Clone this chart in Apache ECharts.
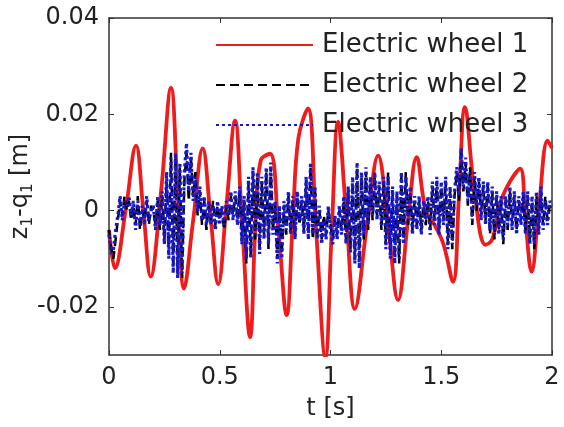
<!DOCTYPE html>
<html>
<head>
<meta charset="utf-8">
<script src="https://cdn.jsdelivr.net/npm/echarts@6/dist/echarts.min.js"></script>
<style>
  html, body { margin: 0; padding: 0; background: #fff; }
  #chart { width: 564px; height: 427px; }
</style>
</head>
<body>
<div id="chart"></div>
<script>
// wheel 1 (smooth red curve): times and values read at peaks, troughs and crossings
let wheel1Time = [0, 0.027, 0.075, 0.122, 0.155, 0.188, 0.235, 0.28, 0.31, 0.339, 0.38, 0.423, 0.458, 0.493,
    0.53, 0.569, 0.60, 0.637, 0.662, 0.685, 0.727, 0.765, 0.802, 0.83, 0.855, 0.898, 0.935, 0.977, 1.005,
    1.034, 1.07, 1.11, 1.165, 1.215, 1.26, 1.305, 1.35, 1.389, 1.43, 1.47, 1.51, 1.553, 1.58, 1.607, 1.65,
    1.70, 1.73, 1.77, 1.81, 1.856, 1.88, 1.908, 1.94, 1.98, 2.0];
let wheel1 = [-0.004, -0.012, 0.000, 0.0135, 0.000, -0.0137, 0.004, 0.0255, 0.004, -0.0162, -0.002, 0.0129, -0.001, -0.0153,
    0.001, 0.0187, -0.002, -0.0263, -0.002, 0.0104, 0.0118, -0.004, -0.0217, -0.002, 0.015, 0.0212, -0.004, -0.0305, -0.005,
    0.0184, 0.000, -0.0204, -0.003, 0.0114, -0.003, -0.0186, -0.002, 0.0111, 0.000, -0.003, -0.007, -0.0148, 0.003, 0.0215, 0.004,
    -0.0071, -0.006, 0.002, 0.006, 0.0087, -0.002, -0.0127, 0.000, 0.0145, 0.013];

// wheels 2 and 3 sampled every 0.01 s from 0 to 2 s
let sampleStep = 0.01;
let wheel2 = [
    -0.004, -0.008, -0.010, -0.006, -0.002, 0.002, -0.001, 0.003, 0.000, 0.002,
    -0.002, 0.001, -0.003, 0.003, -0.004, 0.000, -0.002, 0.002, -0.003, 0.001,
    0.000, -0.003, 0.002, -0.004, 0.003, -0.006, 0.006, -0.009, 0.012, -0.012,
    0.011, -0.013, 0.009, -0.014, 0.006, 0.012, 0.002, 0.011, 0.003, 0.008,
    -0.001, 0.004, -0.003, 0.002, -0.004, 0.001, -0.002, 0.002, -0.003, 0.001,
    -0.002, 0.000, -0.004, 0.001, -0.002, 0.003, -0.001, 0.003, -0.002, 0.004,
    -0.006, 0.002, -0.011, 0.006, -0.009, 0.008, -0.006, 0.007, -0.008, 0.006,
    -0.005, 0.008, -0.008, 0.009, -0.004, 0.001, -0.010, 0.000, -0.009, 0.001,
    -0.005, 0.003, -0.004, 0.002, -0.005, 0.003, -0.003, 0.002, -0.004, 0.006,
    -0.005, 0.009, -0.006, 0.004, -0.005, 0.000, -0.006, -0.001, -0.005, 0.000,
    -0.003, -0.006, -0.002, -0.005, 0.000, -0.004, 0.002, -0.006, 0.004, -0.008,
    0.006, -0.010, 0.009, -0.011, 0.007, -0.006, 0.008, -0.004, 0.006, -0.002,
    0.007, -0.001, 0.005, -0.004, 0.006, -0.007, 0.008, -0.009, 0.004, -0.010,
    0.003, -0.011, 0.007, -0.006, 0.008, -0.003, 0.004, -0.004, 0.002, -0.003,
    0.002, -0.004, 0.001, -0.003, 0.002, -0.004, 0.005, -0.002, 0.006, -0.004,
    0.005, -0.002, 0.006, -0.007, 0.004, -0.008, 0.003, 0.008, 0.002, 0.012,
    0.004, 0.010, 0.001, 0.009, -0.003, 0.007, 0.000, 0.006, -0.001, 0.005,
    -0.002, 0.005, -0.005, 0.004, -0.006, 0.003, -0.004, 0.002, -0.007, 0.002,
    -0.004, 0.004, -0.003, 0.003, -0.004, 0.002, -0.002, 0.003, -0.004, 0.003,
    -0.006, 0.002, -0.008, 0.003, -0.004, 0.004, -0.003, 0.003, -0.002, 0.001, 0.000
];
let wheel3 = [
    -0.005, -0.009, -0.008, -0.004, -0.001, 0.003, -0.002, 0.002, 0.001, 0.003,
    -0.001, 0.002, -0.004, 0.002, -0.003, 0.001, -0.003, 0.003, -0.002, 0.000,
    0.001, -0.004, 0.003, -0.003, 0.004, -0.007, 0.008, -0.010, 0.011, -0.013,
    0.012, -0.014, 0.010, -0.013, 0.008, 0.014, 0.004, 0.012, 0.002, 0.007,
    0.000, 0.005, -0.002, 0.003, -0.003, 0.002, -0.003, 0.001, -0.004, 0.002,
    -0.003, 0.001, -0.003, 0.002, -0.001, 0.004, -0.002, 0.004, -0.003, 0.005,
    -0.007, 0.003, -0.010, 0.007, -0.010, 0.009, -0.005, 0.008, -0.009, 0.007,
    -0.006, 0.009, -0.007, 0.010, -0.005, 0.002, -0.011, 0.001, -0.010, 0.002,
    -0.004, 0.004, -0.005, 0.003, -0.006, 0.004, -0.002, 0.003, -0.005, 0.007,
    -0.006, 0.010, -0.005, 0.005, -0.006, 0.001, -0.007, -0.002, -0.006, 0.001,
    -0.004, -0.007, -0.001, -0.006, 0.001, -0.005, 0.003, -0.007, 0.005, -0.009,
    0.007, -0.011, 0.010, -0.012, 0.008, -0.005, 0.009, -0.003, 0.007, -0.001,
    0.008, -0.002, 0.006, -0.003, 0.007, -0.008, 0.007, -0.010, 0.005, -0.011,
    0.004, -0.010, 0.008, -0.007, 0.007, -0.002, 0.005, -0.005, 0.003, -0.004,
    0.003, -0.005, 0.002, -0.002, 0.003, -0.005, 0.006, -0.003, 0.007, -0.005,
    0.006, -0.003, 0.007, -0.008, 0.005, -0.007, 0.004, 0.009, 0.003, 0.013,
    0.005, 0.011, 0.002, 0.008, -0.002, 0.008, 0.001, 0.007, -0.002, 0.006,
    -0.003, 0.006, -0.004, 0.005, -0.005, 0.004, -0.005, 0.003, -0.006, 0.003,
    -0.003, 0.005, -0.004, 0.004, -0.005, 0.003, -0.003, 0.004, -0.005, 0.004,
    -0.007, 0.003, -0.007, 0.004, -0.005, 0.005, -0.004, 0.002, -0.003, 0.002, 0.001
];

let seriesNames = ['Electric wheel 1', 'Electric wheel 2', 'Electric wheel 3'];
let yTicks = [-0.02, 0, 0.02, 0.04];

let font = 'DejaVu Sans, Verdana, sans-serif';
let textColor = '#222';

function pairs(times, values) {
    let out = [];
    for (let i = 0; i < values.length; i++) out.push([times[i], values[i]]);
    return out;
}
function sampled(values) {
    let out = [];
    for (let i = 0; i < values.length; i++) out.push([+(i * sampleStep).toFixed(2), values[i]]);
    return out;
}

let chart = echarts.init(document.getElementById('chart'));

let frameLine = { show: true, onZero: false, lineStyle: { color: '#333', width: 1.5 } };
let innerTick = { show: true, inside: true, length: 5, lineStyle: { color: '#333', width: 1 } };

let option = {
    animation: false,
    backgroundColor: '#fff',
    grid: { left: 109, right: 12, top: 18, bottom: 72, outerBoundsMode: 'none' },
    legend: {
        data: seriesNames,
        orient: 'vertical',
        left: 215,
        top: 32,
        padding: 0,
        itemWidth: 97,
        itemHeight: 20,
        itemGap: 14,
        itemStyle: { opacity: 0 },
        textStyle: { fontFamily: font, fontSize: 26, color: textColor, padding: [0, 0, 0, 4] }
    },
    xAxis: [
        {
            type: 'value', min: 0, max: 2, interval: 0.5, position: 'bottom',
            name: 't [s]', nameLocation: 'middle', nameGap: 42, nameMoveOverlap: false,
            nameTextStyle: { fontFamily: font, fontSize: 24, color: textColor },
            axisLine: frameLine, axisTick: innerTick,
            axisLabel: { fontFamily: font, fontSize: 24, color: textColor, margin: 11 },
            splitLine: { show: false }
        },
        {
            type: 'value', min: 0, max: 2, interval: 0.5, position: 'top',
            axisLine: frameLine, axisTick: innerTick,
            axisLabel: { show: false }, splitLine: { show: false }
        }
    ],
    yAxis: [
        {
            type: 'value', min: -0.03, max: 0.04, position: 'left',
            name: '{a|z}{s|1}{a|-q}{s|1}{a| [m]}', nameLocation: 'middle', nameGap: 73, nameMoveOverlap: false,
            nameTextStyle: {
                fontFamily: font, fontSize: 24, color: textColor,
                rich: {
                    a: { fontFamily: font, fontSize: 24, color: textColor, lineHeight: 30 },
                    s: { fontFamily: font, fontSize: 15, color: textColor, lineHeight: 15, verticalAlign: 'bottom' }
                }
            },
            axisLine: frameLine,
            axisTick: Object.assign({ customValues: yTicks }, innerTick),
            axisLabel: { customValues: yTicks, fontFamily: font, fontSize: 24, color: textColor, margin: 10 },
            splitLine: { show: false }
        },
        {
            type: 'value', min: -0.03, max: 0.04, position: 'right',
            axisLine: frameLine,
            axisTick: Object.assign({ customValues: yTicks }, innerTick),
            axisLabel: { show: false, customValues: yTicks }, splitLine: { show: false }
        }
    ],
    series: [
        {
            name: seriesNames[0], type: 'line', data: pairs(wheel1Time, wheel1),
            smooth: 0.4, symbol: 'none', clip: true,
            lineStyle: { color: '#ee1c1c', width: 3.8 }, itemStyle: { color: '#ee1c1c' }
        },
        {
            name: seriesNames[1], type: 'line', data: sampled(wheel2),
            symbol: 'none', clip: true,
            lineStyle: { color: '#000', width: 2.5, type: [9, 5] }, itemStyle: { color: '#000' }
        },
        {
            name: seriesNames[2], type: 'line', data: sampled(wheel3),
            symbol: 'none', clip: true,
            lineStyle: { color: '#1818cc', width: 3.2, type: [3, 3] }, itemStyle: { color: '#1818cc' }
        }
    ]
};

option && chart.setOption(option);
</script>
</body>
</html>
